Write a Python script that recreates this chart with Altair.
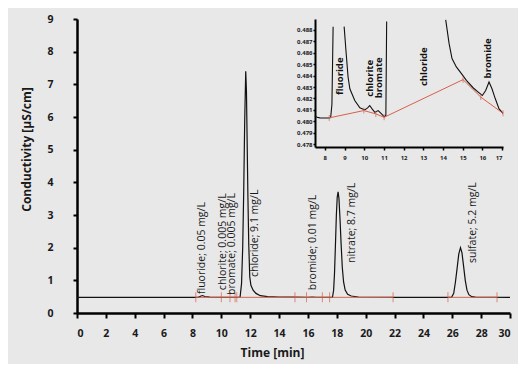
import altair as alt
import pandas as pd

# ---------------- main chromatogram ----------------
main_time = [0.0, 7.0, 8.4, 8.6, 8.7, 8.85, 9.2, 10.0, 11.0, 11.30, 11.40, 11.48, 11.55,
             11.62, 11.69, 11.74, 11.79, 11.84, 11.90, 11.97, 12.05, 12.2, 12.4, 12.7,
             13.2, 14.0, 15.0, 16.0, 16.3, 16.6, 17.5, 17.70, 17.78, 17.84, 17.90, 17.97,
             18.03, 18.09, 18.15, 18.22, 18.30, 18.38, 18.47, 18.58, 18.75, 19.0, 19.5,
             22.0, 25.95, 26.1, 26.22, 26.33, 26.45, 26.57, 26.67, 26.78, 26.9, 27.02,
             27.15, 27.35, 27.6, 30.0]
main_cond = [0.480, 0.480, 0.480, 0.520, 0.535, 0.505, 0.485, 0.481, 0.481, 0.490, 0.90,
             2.0, 3.7, 5.9, 7.4, 6.8, 5.2, 3.6, 2.1, 1.1, 0.85, 0.70, 0.60, 0.53, 0.50,
             0.49, 0.484, 0.482, 0.484, 0.482, 0.481, 0.480, 0.70, 1.2, 2.0, 3.0, 3.55,
             3.71, 3.5, 2.9, 2.1, 1.4, 0.95, 0.70, 0.57, 0.52, 0.49, 0.480, 0.480, 0.60,
             0.95, 1.35, 1.8, 2.0, 1.85, 1.45, 1.0, 0.70, 0.56, 0.50, 0.485, 0.480]

# red integration baseline + markers (main)
base_time = [8.23, 10.0, 10.6, 10.95, 11.07, 15.1, 15.9, 17.0, 17.5, 21.9, 25.7, 29.1]
base_cond = [0.48, 0.48, 0.48, 0.48, 0.48, 0.48, 0.48, 0.48, 0.48, 0.48, 0.48, 0.48]
base_group = [1, 1, 1, 1, 1, 1, 1, 1, 1, 1, 2, 2]

# peak annotations (main)
lab_text = ["fluoride; 0.05 mg/L", "chlorite; 0.005 mg/L", "bromate; 0.005 mg/L",
            "chloride; 9.1 mg/L", "bromide; 0.01 mg/L", "nitrate; 8.7 mg/L",
            "sulfate; 5.2 mg/L"]
lab_time = [8.69, 10.10, 10.77, 12.31, 16.35, 19.02, 27.44]
lab_cond = [0.58, 0.70, 0.55, 1.10, 0.70, 1.53, 1.53]

# ---------------- inset (zoomed baseline) ----------------
ins_time = [7.49, 7.6, 7.75, 8.0, 8.25, 8.30, 8.36, 8.42,
            8.98, 9.07, 9.18, 9.27, 9.52, 9.78, 10.03, 10.17, 10.28, 10.40, 10.54,
            10.71, 10.88, 11.01, 11.10, 11.14,
            14.14, 14.31, 14.46, 14.68, 14.94, 15.19, 15.53, 15.79, 16.0, 16.17, 16.34,
            16.49, 16.66, 16.85, 17.05]
ins_cond = [0.48050, 0.48035, 0.48030, 0.48029, 0.48030, 0.48040, 0.48150, 0.48829,
            0.48829, 0.48624, 0.48388, 0.48285, 0.48182, 0.48118, 0.48100, 0.48118,
            0.48138, 0.48109, 0.48079, 0.48094, 0.48065, 0.48041, 0.48050, 0.48874,
            0.48888, 0.48682, 0.48550, 0.48476, 0.48418, 0.48359, 0.48294, 0.48256,
            0.48226, 0.48270, 0.48344, 0.48285, 0.48197, 0.48109, 0.48070]
ins_seg = [1, 1, 1, 1, 1, 1, 1, 1,
           2, 2, 2, 2, 2, 2, 2, 2, 2, 2, 2, 2, 2, 2, 2, 2,
           3, 3, 3, 3, 3, 3, 3, 3, 3, 3, 3, 3, 3, 3, 3]

ins_base_time = [8.22, 9.98, 10.59, 11.01, 15.02, 15.92, 17.05]
ins_base_cond = [0.48030, 0.48094, 0.48065, 0.48035, 0.48365, 0.48212, 0.48070]

ins_lab_text = ["fluoride", "chlorite", "bromate", "chloride", "bromide"]
ins_lab_time = [8.76, 10.28, 10.76, 13.04, 16.29]
ins_lab_cond = [0.48230, 0.48215, 0.48201, 0.48309, 0.48376]

ins_yticks = [0.478, 0.479, 0.480, 0.481, 0.482, 0.483, 0.484, 0.485, 0.486, 0.487, 0.488]
ins_xticks = [8, 9, 10, 11, 12, 13, 14, 15, 16, 17]
main_xticks = [0, 2, 4, 6, 8, 10, 12, 14, 16, 18, 20, 22, 24, 26, 28, 30]
main_yticks = [0, 1, 2, 3, 4, 5, 6, 7, 8, 9]

RED = "#d6604a"
INK = "#111111"
FONT = "Open Sans"

main_df = pd.DataFrame({"t": main_time, "v": main_cond})
base_df = pd.DataFrame({"t": base_time, "v": base_cond, "g": base_group})
lab_df = pd.DataFrame({"t": lab_time, "v": lab_cond, "txt": lab_text})
ins_df = pd.DataFrame({"ti": ins_time, "vi": ins_cond, "s": ins_seg})
ins_base_df = pd.DataFrame({"ti": ins_base_time, "vi": ins_base_cond})
ins_lab_df = pd.DataFrame({"ti": ins_lab_time, "vi": ins_lab_cond, "txt": ins_lab_text})

x_main = alt.X("t:Q", scale=alt.Scale(domain=[0, 30], nice=False, zero=False),
               axis=alt.Axis(values=main_xticks, title="Time [min]", grid=False,
                             domainWidth=2.5, tickWidth=2, tickSize=5,
                             labelFontSize=10.5, labelFontWeight="bold", labelPadding=10,
                             titleFontSize=12, titleFontWeight="bold",
                             titleX=195, titleY=39, titleBaseline="middle"))
y_main = alt.Y("v:Q", scale=alt.Scale(domain=[0, 9], nice=False, zero=False),
               axis=alt.Axis(values=main_yticks, title="Conductivity [µS/cm]", grid=False,
                             domainWidth=2.5, tickWidth=2, tickSize=4,
                             labelFontSize=10.5, labelFontWeight="bold", labelPadding=20,
                             titleFontSize=12, titleFontWeight="bold",
                             titleX=-51, titleY=130, titleBaseline="middle", titleAngle=270))

main_line = alt.Chart(main_df).mark_line(color=INK, strokeWidth=1.2).encode(x=x_main, y=y_main)
base_line = alt.Chart(base_df).mark_line(color=RED, strokeWidth=1).encode(
    x=x_main, y=y_main, detail="g:N")
base_ticks = alt.Chart(base_df).mark_tick(color=RED, orient="vertical", size=10,
                                          thickness=1).encode(x=x_main, y=y_main)
labels = alt.Chart(lab_df).mark_text(angle=270, align="left", baseline="middle", font=FONT,
                                     fontSize=10.5, color="#1a1a1a").encode(
    x=x_main, y=y_main, text="txt:N")
main = alt.layer(main_line, base_line, base_ticks, labels)

x_ins = alt.X("ti:Q", scale=alt.Scale(domain=[7.5, 17.05], range=[238, 426], nice=False,
                                      zero=False),
              axis=alt.Axis(values=ins_xticks, orient="bottom", offset=-166, title=None,
                            grid=False, domainWidth=2, tickWidth=1.5, tickSize=3,
                            labelFontSize=6, labelFontWeight="bold", labelPadding=4))
y_ins = alt.Y("vi:Q", scale=alt.Scale(domain=[0.47775, 0.48896], range=[128, 0], nice=False,
                                      zero=False),
              axis=alt.Axis(values=ins_yticks, format=".3f", orient="left", offset=-238,
                            title=None, grid=False, domainWidth=2, tickWidth=1.5,
                            tickSize=2, labelFontSize=6, labelFontWeight="bold",
                            labelPadding=1))

ins_line = alt.Chart(ins_df).mark_line(color=INK, strokeWidth=1.1).encode(
    x=x_ins, y=y_ins, detail="s:N")
ins_base = alt.Chart(ins_base_df).mark_line(color=RED, strokeWidth=1).encode(x=x_ins, y=y_ins)
ins_ticks = alt.Chart(ins_base_df).mark_tick(color=RED, orient="vertical", size=6,
                                             thickness=1).encode(x=x_ins, y=y_ins)
ins_labels = alt.Chart(ins_lab_df).mark_text(angle=270, align="left", baseline="middle",
                                             font=FONT, fontSize=9.5, fontWeight="bold",
                                             color="#111111").encode(
    x=x_ins, y=y_ins, text="txt:N")
inset = alt.layer(ins_line, ins_base, ins_ticks, ins_labels)

chart = alt.layer(main, inset).resolve_scale(x="independent", y="independent").properties(
    width=433, height=294,
    autosize=alt.AutoSizeParams(type="none"),
    padding={"left": 69, "top": 11, "right": 8, "bottom": 51},
    background="#e8e8e9",
).configure_view(stroke=None).configure_axis(
    domainColor="black", tickColor="black", labelColor="#1a1a1a", titleColor="#1a1a1a",
    labelFont=FONT, titleFont=FONT, grid=False)

chart.save("out.html", embed_options={"renderer": "svg", "actions": False})
